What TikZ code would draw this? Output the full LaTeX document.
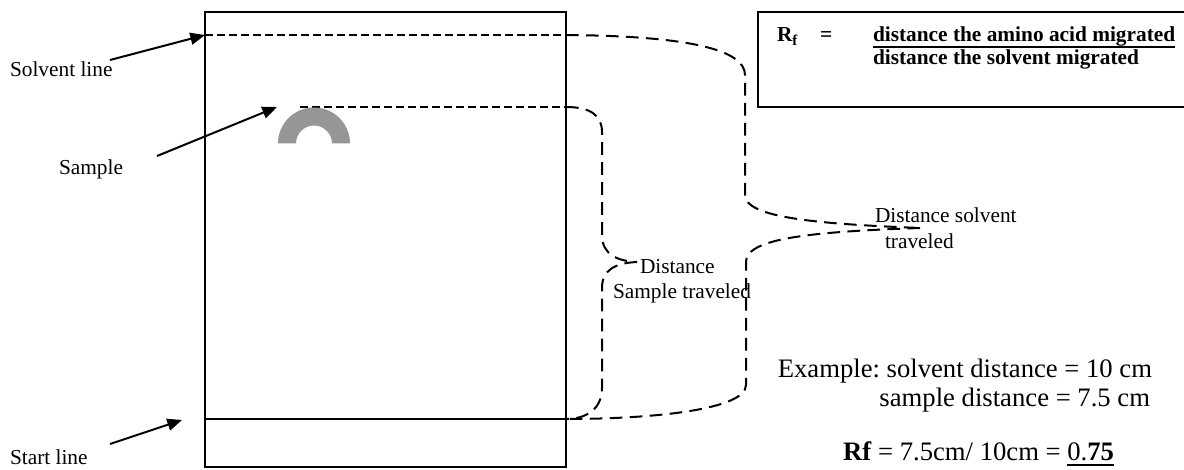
\documentclass[tikz,border=0pt]{standalone}
\usepackage{fontspec}
\setmainfont{Liberation Serif}
\usetikzlibrary{arrows.meta}
\frenchspacing
\newcommand\myul[1]{\setbox0\hbox{#1}\rlap{\rule[-4.6pt]{\wd0}{1.3pt}}\box0}
\begin{document}
\begin{tikzpicture}[x=0.75pt,y=-0.75pt,
  every node/.style={font=\fontsize{16}{19}\selectfont, inner sep=0pt, outer sep=0pt},
  lbl/.style={anchor=base west},
  rlbl/.style={anchor=base east},
  bigtext/.style={font=\fontsize{20}{24}\selectfont},
  frame/.style={line width=1.5pt},
  shortdash/.style={line width=1.5pt, dash pattern=on 6pt off 3pt},
  longdash/.style={line width=1.5pt, dash pattern=on 9.5pt off 5.5pt},
  pointer/.style={line width=1.5pt, -{Triangle[length=11pt,width=9pt]}},
  spotfill/.style={fill=black!41}]
\useasboundingbox (0,0) rectangle (1184,470);
% plate
\coordinate (pTL) at (205,12);
\coordinate (pBR) at (566,467);
\draw[frame] (pTL) rectangle (pBR);
% lines on the plate
\coordinate (st0) at (205,419);
\coordinate (st1) at (566,419);
\coordinate (sv0) at (205,35);
\coordinate (sv1) at (566,35);
\coordinate (sa0) at (300,107);
\coordinate (sa1) at (566,107);
\draw[frame] (st0) -- (st1);
\draw[shortdash] (sv0) -- (sv1);
\draw[shortdash] (sa0) -- (sa1);
% sample spot
\fill[spotfill] (278,143.5) arc[start angle=180,end angle=0,radius=27pt]
  -- (332,143.5) arc[start angle=0,end angle=180,radius=13.5pt] -- cycle;
% braces
\coordinate (svtip) at (920,228);
\coordinate (satip) at (637,262);
\draw[longdash] (sv1) .. controls (690,36) and (745,50) .. (745,75)
  -- (745,195) .. controls (745,218) and (820,224) .. (svtip);
\draw[longdash] (svtip) .. controls (800,232) and (746,240) .. (746,262)
  -- (746,385) .. controls (746,410) and (650,419) .. (st1);
\draw[longdash] (sa1) .. controls (590,107) and (602,115) .. (602,132)
  -- (602,235) .. controls (602,255) and (618,261) .. (satip);
\draw[longdash] (satip) .. controls (615,263) and (602,270) .. (602,288)
  -- (602,388) .. controls (602,410) and (585,419) .. (st1);
% labels and pointers
\node[lbl] (solventlbl) at (10,77) {Solvent line};
\node[lbl] (samplelbl) at (59,175) {Sample};
\node[lbl] (startlbl) at (10,464) {Start line};
\coordinate (svtail) at (110,60);
\coordinate (satail) at (157,156);
\coordinate (sttail) at (110,444);
\coordinate (spottip) at (277,107);
\coordinate (sttip) at (182,420);
\draw[pointer] (svtail) -- (sv0);
\draw[pointer] (satail) -- (spottip);
\draw[pointer] (sttail) -- (sttip);
% formula box
\draw[frame] (1184,12) -- (758,12) -- (758,107) -- (1184,107);
\node[lbl] (rf) at (777,42) {\textbf{R\textsubscript{f}}};
\node[lbl] (eq) at (820,42) {\textbf{=}};
\node[lbl] (num) at (873,42) {\textbf{\myul{distance the amino acid migrated}}};
\node[lbl] (den) at (873,65) {\textbf{distance the solvent migrated}};
% brace labels
\node[lbl] (ds1) at (640,273) {Distance};
\node[lbl] (ds2) at (613,298) {Sample traveled};
\node[lbl] (dv1) at (875,223) {Distance solvent};
\node[lbl] (dv2) at (885,248) {traveled};
% example
\node[rlbl,bigtext] (ex1) at (1152,377) {Example: solvent distance = 10 cm};
\node[rlbl,bigtext] (ex2) at (1150,406) {sample distance = 7.5 cm};
\node[lbl,bigtext] (rfex) at (843,460) {\textbf{Rf} = 7.5cm/ 10cm = \myul{0.\textbf{75}}};
\end{tikzpicture}
\end{document}
